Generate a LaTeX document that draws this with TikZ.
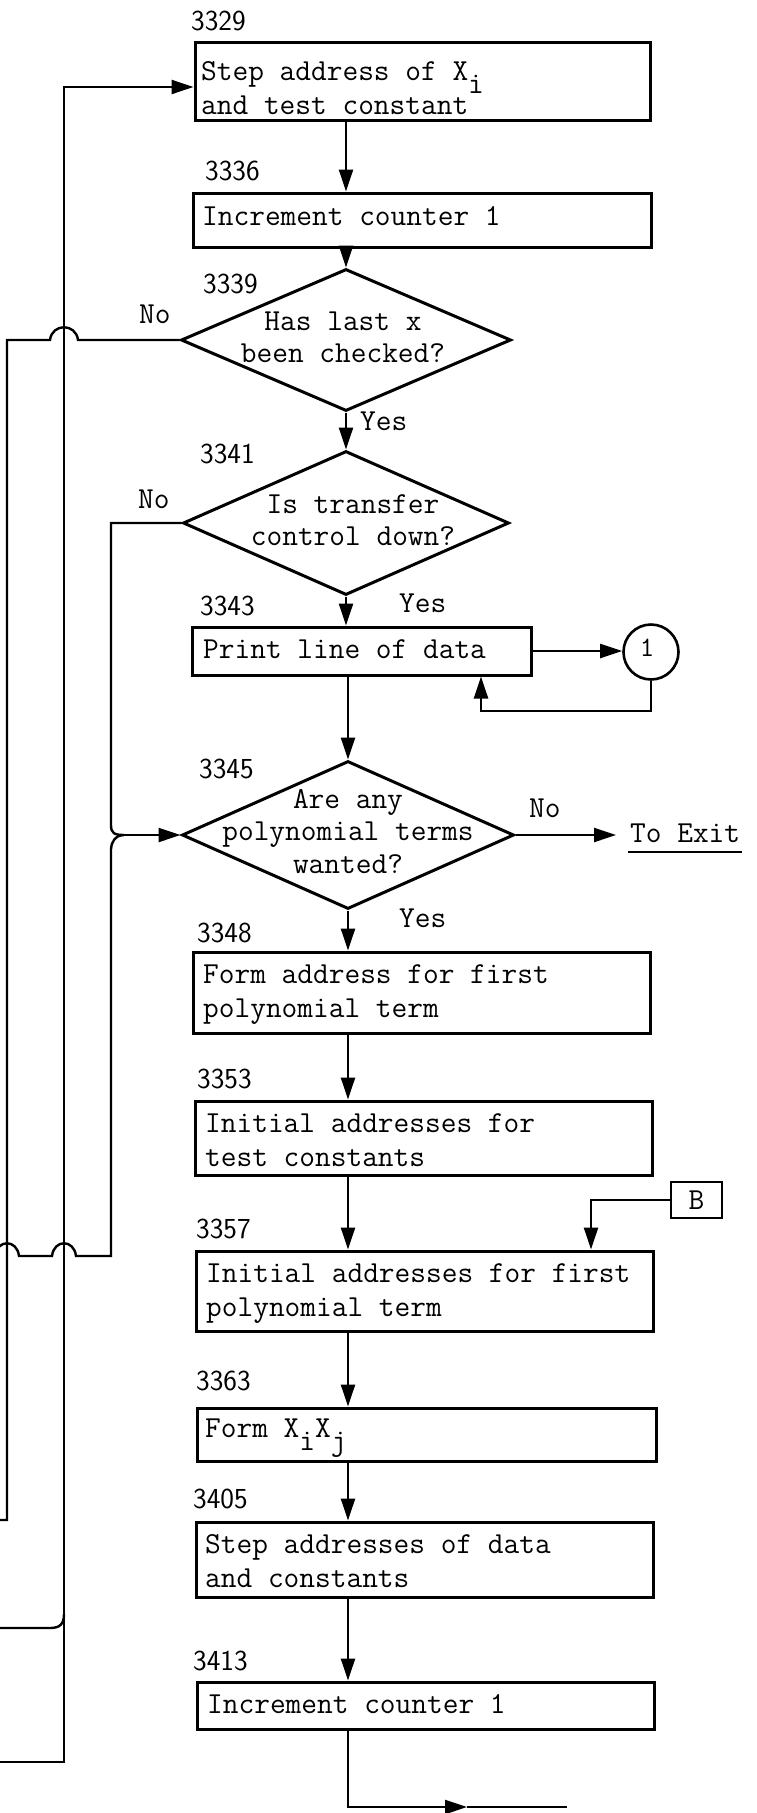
\documentclass[tikz,border=0pt]{standalone}
\usetikzlibrary{shapes.geometric,arrows.meta}
\newcommand\tfont{\ttfamily\fontsize{30.5}{34}\selectfont}
\newcommand\dfont{\ttfamily\fontsize{30.5}{32.5}\selectfont}
\newcommand\nfont{\sffamily\fontsize{29}{34}\selectfont}
\newcommand\lowr[1]{\raisebox{-13pt}[0pt][0pt]{#1}}
\newcommand\topstrut{\rule{0pt}{20pt}}
\begin{document}
\begin{tikzpicture}[x=1pt,y=-1pt,
  box/.style={draw, line width=3pt, rectangle, inner sep=0pt},
  dia/.style={draw, line width=3pt, diamond, inner sep=0pt},
  conn/.style={line width=2.4pt},
  arr/.style={-{Triangle[length=22pt,width=14pt]}},
  txt/.style={inner sep=0pt, anchor=north west, align=left, font=\tfont},
  dtxt/.style={inner sep=0pt, anchor=north, align=center, font=\dfont},
  lbl/.style={inner sep=0pt, anchor=base west, font=\nfont},
  yn/.style={inner sep=0pt, anchor=base west, font=\tfont}]
\useasboundingbox (0,0) rectangle (757,1813);
\fill[white] (0,0) rectangle (757,1813);
\clip (0,0) rectangle (757,1813);

% boxes and decisions
\node[box, minimum width=455pt, minimum height=78pt] (b1) at (422.5,81) {};
\node[box, minimum width=458pt, minimum height=54pt] (b2) at (422,220) {};
\node[dia, minimum width=330pt, minimum height=142pt] (d1) at (346,340) {};
\node[dia, minimum width=326pt, minimum height=144pt] (d2) at (346,523) {};
\node[box, minimum width=339pt, minimum height=48pt] (b3) at (361.5,651) {};
\node[circle, draw, line width=2.6pt, minimum size=55pt, inner sep=0pt] (k1) at (651,652) {};
\node[inner sep=0pt, anchor=base, font=\ttfamily\fontsize{28}{28}\selectfont] (k1t) at (647,656) {1};
\node[dia, minimum width=332pt, minimum height=148pt] (d3) at (348,835) {};
\node[box, minimum width=457pt, minimum height=81pt] (b4) at (421.5,992.5) {};
\node[box, minimum width=457pt, minimum height=74pt] (b5) at (423.5,1138) {};
\node[box, line width=2.8pt, minimum width=51pt, minimum height=36pt, font=\tfont] (bB) at (696.5,1200) {B};
\node[box, minimum width=457pt, minimum height=80pt] (b6) at (424.5,1291) {};
\node[box, minimum width=459pt, minimum height=53pt] (b7) at (426.5,1434.5) {};
\node[box, minimum width=457pt, minimum height=75pt] (b8) at (424.5,1559.5) {};
\node[box, minimum width=457pt, minimum height=47pt] (b9) at (425.5,1705.5) {};

% box texts
\node[txt] (t1) at (201,60) {\topstrut Step address of X\lowr{i}\\and test constant};
\node[txt] (t2) at (202,205) {\topstrut Increment counter 1};
\node[txt] (t3) at (203,638) {\topstrut Print line of data};
\node[txt] (t4) at (203,963) {\topstrut Form address for first\\polynomial term};
\node[txt] (t5) at (205,1112) {\topstrut Initial addresses for\\test constants};
\node[txt] (t6) at (206,1262) {\topstrut Initial addresses for first\\polynomial term};
\node[txt] (t7) at (205,1417) {\topstrut Form X\lowr{i}X\lowr{j}};
\node[txt] (t8) at (205,1533) {\topstrut Step addresses of data\\and constants};
\node[txt] (t9) at (207,1693) {\topstrut Increment counter 1};

% decision texts
\node[dtxt] (e1) at (343,310) {\topstrut Has last x\\been checked?};
\node[dtxt] (e2) at (353,493) {\topstrut Is transfer\\control down?};
\node[dtxt] (e3) at (348,788) {\topstrut Are any\\polynomial terms\\wanted?};

% location numbers
\node[lbl] (n1) at (191,30) {3329};
\node[lbl] (n2) at (205,180) {3336};
\node[lbl] (n3) at (203,293) {3339};
\node[lbl] (n4) at (200,463) {3341};
\node[lbl] (n5) at (200,615) {3343};
\node[lbl] (n6) at (199,778) {3345};
\node[lbl] (n7) at (197,942) {3348};
\node[lbl] (n8) at (197,1088) {3353};
\node[lbl] (n9) at (196,1238) {3357};
\node[lbl] (n10) at (196,1390) {3363};
\node[lbl] (n11) at (193,1508) {3405};
\node[lbl] (n12) at (193,1670) {3413};

% yes / no labels
\node[yn] (no1) at (139,323) {No};
\node[yn] (no2) at (138,508) {No};
\node[yn] (yes1) at (360,430) {Yes};
\node[yn] (yes2) at (399,612) {Yes};
\node[yn] (yes3) at (399,927) {Yes};
\node[yn] (no3) at (529,817) {No};
\node[yn] (exit) at (630,842) {To Exit};
\draw[conn] ([xshift=-2pt,yshift=-10pt]exit.base west) -- ([xshift=2pt,yshift=-10pt]exit.base east);

% main spine
\coordinate (col) at (348,0);
\draw[conn,arr] (b1.south -| d1.north) -- (b2.north -| d1.north);
\draw[conn,arr] (b2.south -| d1.north) -- (d1.north);
\draw[conn,arr] (d1.south) -- (d2.north);
\draw[conn,arr] (d2.south) -- (d2.south |- b3.north);
\draw[conn,arr] (b3.south -| d3.north) -- (d3.north);
\draw[conn,arr] (d3.south) -- (d3.south |- b4.north);
\draw[conn,arr] (b4.south -| col) -- (b5.north -| col);
\draw[conn,arr] (b5.south -| col) -- (b6.north -| col);
\draw[conn,arr] (b6.south -| col) -- (b7.north -| col);
\draw[conn,arr] (b7.south -| col) -- (b8.north -| col);
\draw[conn,arr] (b8.south -| col) -- (b9.north -| col);

% print loop with connector 1
\draw[conn,arr] (b3.east) -- (k1.west |- b3.east);
\coordinate (r1) at (481,711);
\draw[conn,arr] (k1.south) |- (r1) -- (r1 |- b3.south);

% B entry
\draw[conn,arr] (bB.west) -| (b6.north -| 591,0);

% to exit
\coordinate (exitin) at (616,835);
\draw[conn,arr] (d3.east) -- (exitin);

% bottom exit
\coordinate (xm) at (467,1807);
\coordinate (xe) at (567,1807);
\draw[conn,arr] (b9.south -| col) |- (xm);
\draw[conn] (xm) -- (xe);

% left line 1 (No from 3339)
\coordinate (l1end) at (0,1520);
\draw[conn] (d1.west) -- (78,340) .. controls (76,323) and (52,323) .. (50,340) -- (7,340) -- (7,1520) -- (l1end);

% left line 2 (return to 3329)
\coordinate (l2end) at (0,1762);
\draw[conn,arr] (l2end) -- (64,1762) -- (64,87) -- (b1.west |- 0,87);
\draw[conn] (0,1628) -- (50,1628) .. controls (60,1628) and (64,1624) .. (64,1614);

% left line 3 (No from 3341 and lower entry) into 3345
\coordinate (m3) at (124,835);
\draw[conn] (d2.west) -| (111,825) .. controls (111,833) and (114,835) .. (m3);
\draw[conn,arr] (m3) -- (d3.west);
\draw[conn] (-20,1256) -- (-5,1256) .. controls (-3,1239) and (17,1239) .. (19,1256)
  -- (52,1256) .. controls (54,1239) and (74,1239) .. (76,1256)
  -- (111,1256) -- (111,849) .. controls (111,843) and (115,835) .. (m3);
\end{tikzpicture}
\end{document}
